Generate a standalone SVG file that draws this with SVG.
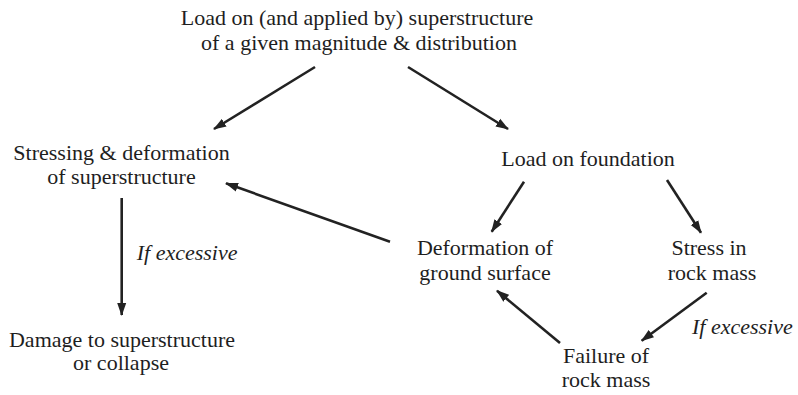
<svg xmlns="http://www.w3.org/2000/svg" width="798" height="395" viewBox="0 0 798 395">
<style>
  text { font-family: 'Liberation Serif', 'Times New Roman', serif; font-size: 22px; fill: #1e1e1e; }
  .c { text-anchor: middle; }
  .i { font-style: italic; }
  .conn line { stroke: #222; stroke-width: 2.6; fill: none; marker-end: url(#ah); }
</style>
<defs>
  <marker id="ah" markerUnits="userSpaceOnUse" markerWidth="14" markerHeight="10" refX="12" refY="5" orient="auto">
    <path d="M0,0.5 L13,5 L0,9.5 z" fill="#222"/>
  </marker>
</defs>
<rect width="798" height="395" fill="#fff"/>
<g id="load-super">
  <text class="c" x="357" y="25">Load on (and applied by) superstructure</text>
  <text class="c" x="359" y="50">of a given magnitude &amp; distribution</text>
</g>
<g id="stressing">
  <text class="c" x="121.5" y="160">Stressing &amp; deformation</text>
  <text class="c" x="121.5" y="184">of superstructure</text>
</g>
<g id="damage">
  <text class="c" x="122" y="347">Damage to superstructure</text>
  <text class="c" x="121" y="370">or collapse</text>
</g>
<g id="load-foundation">
  <text class="c" x="588" y="166">Load on foundation</text>
</g>
<g id="deformation">
  <text class="c" x="485" y="255">Deformation of</text>
  <text class="c" x="485" y="280">ground surface</text>
</g>
<g id="stress">
  <text class="c" x="709" y="255">Stress in</text>
  <text class="c" x="712" y="280">rock mass</text>
</g>
<g id="failure">
  <text class="c" x="606" y="363">Failure of</text>
  <text class="c" x="606" y="387">rock mass</text>
</g>
<g id="connectors" class="conn">
  <line x1="315" y1="67" x2="214" y2="129"/>
  <line x1="408" y1="67" x2="508" y2="129"/>
  <line x1="121.7" y1="198" x2="121.7" y2="315"/>
  <line x1="390" y1="241.7" x2="226" y2="183.3"/>
  <line x1="524" y1="181.7" x2="491.7" y2="231.7"/>
  <line x1="667" y1="180" x2="701" y2="232.7"/>
  <line x1="706.7" y1="292.7" x2="641.7" y2="340.7"/>
  <line x1="560" y1="343" x2="497" y2="290.7"/>
  <text class="i" x="136.7" y="260">If excessive</text>
  <text class="i" x="692" y="334">If excessive</text>
</g>
</svg>
